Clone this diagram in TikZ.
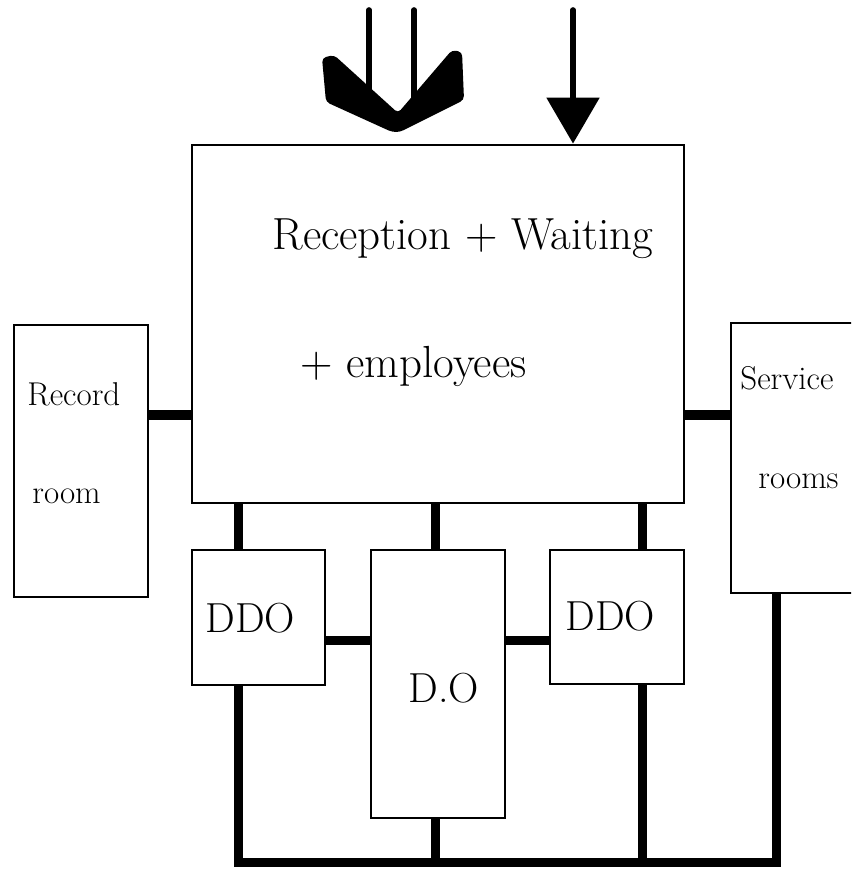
\documentclass[tikz,border=0pt]{standalone}
\usetikzlibrary{fit,arrows.meta}
\begin{document}
\begin{tikzpicture}[x=0.5pt,y=-0.5pt,
  room/.style={draw, line width=1.4pt, inner sep=0pt, fill=white},
  link/.style={line width=4.5pt},
  shaft/.style={line width=2.8pt, line cap=round},
  hand/.style={font=\fontsize{22.5}{26}\selectfont, inner sep=0pt, anchor=base west},
  small/.style={font=\fontsize{16.5}{20}\selectfont, inner sep=0pt, anchor=base west},
  big/.style={font=\fontsize{21}{24}\selectfont, inner sep=0pt, anchor=base west}]
\useasboundingbox (0,0) rectangle (851,870);
\clip (0,0) rectangle (851,870);

% rooms
\node[room, fit={(192,145) (684,503)}] (main) {};
\node[room, fit={(14,325) (148,597)}] (rec) {};
\node[room, fit={(731,323) (880,593)}] (serv) {};
\node[room, fit={(192,550) (325,685)}] (ddoL) {};
\node[room, fit={(371,550) (505,818)}] (do) {};
\node[room, fit={(550,550) (684,684)}] (ddoR) {};

% junction levels and drop lines
\coordinate (side) at (0,415);
\coordinate (mid) at (0,640);
\coordinate (bus) at (0,862);
\coordinate (xL) at (238,0);
\coordinate (xC) at (435,0);
\coordinate (xR) at (642,0);
\coordinate (xS) at (776,0);

% connectors
\draw[link] (side -| rec.east) -- (side -| main.west);
\draw[link] (side -| main.east) -- (side -| serv.west);
\draw[link] (xL |- main.south) -- (xL |- ddoL.north);
\draw[link] (xC |- main.south) -- (xC |- do.north);
\draw[link] (xR |- main.south) -- (xR |- ddoR.north);
\draw[link] (mid -| ddoL.east) -- (mid -| do.west);
\draw[link] (mid -| do.east) -- (mid -| ddoR.west);
\draw[link, line join=miter] (xL |- ddoL.south) -- (xL |- bus) -- (xS |- bus) -- (xS |- serv.south);
\draw[link] (xC |- do.south) -- (xC |- bus);
\draw[link] (xR |- ddoR.south) -- (xR |- bus);

% labels
\node[hand] (t1) at (272,250) {Reception + Waiting};
\node[hand] (t2) at (300,378) {+ employees};
\node[small] (t3) at (27,406) {Record};
\node[small] (t4) at (32,503) {room};
\node[small] (t5) at (740,390) {Service};
\node[small] (t6) at (758,488) {rooms};
\node[big] (l1) at (205,632) {DDO};
\node[big] (l2) at (408,702) {D.O};
\node[big] (l3) at (565,630) {DDO};

% entrance arrows
\coordinate (a1) at (369,10);
\coordinate (a2) at (414,10);
\coordinate (a3) at (573,10);
\draw[shaft] (a1) -- (369,100);
\draw[shaft] (a2) -- (414,100);
\fill[rounded corners=2pt] (322,58) -- (334,55) -- (398,113) -- (452,50) -- (462,52)
  -- (464,100) -- (400,132) -- (392,132) -- (326,102) -- cycle;
\draw[shaft, -{Triangle[length=23pt,width=26pt]}] (a3) -- (a3 |- main.north);
\end{tikzpicture}
\end{document}
